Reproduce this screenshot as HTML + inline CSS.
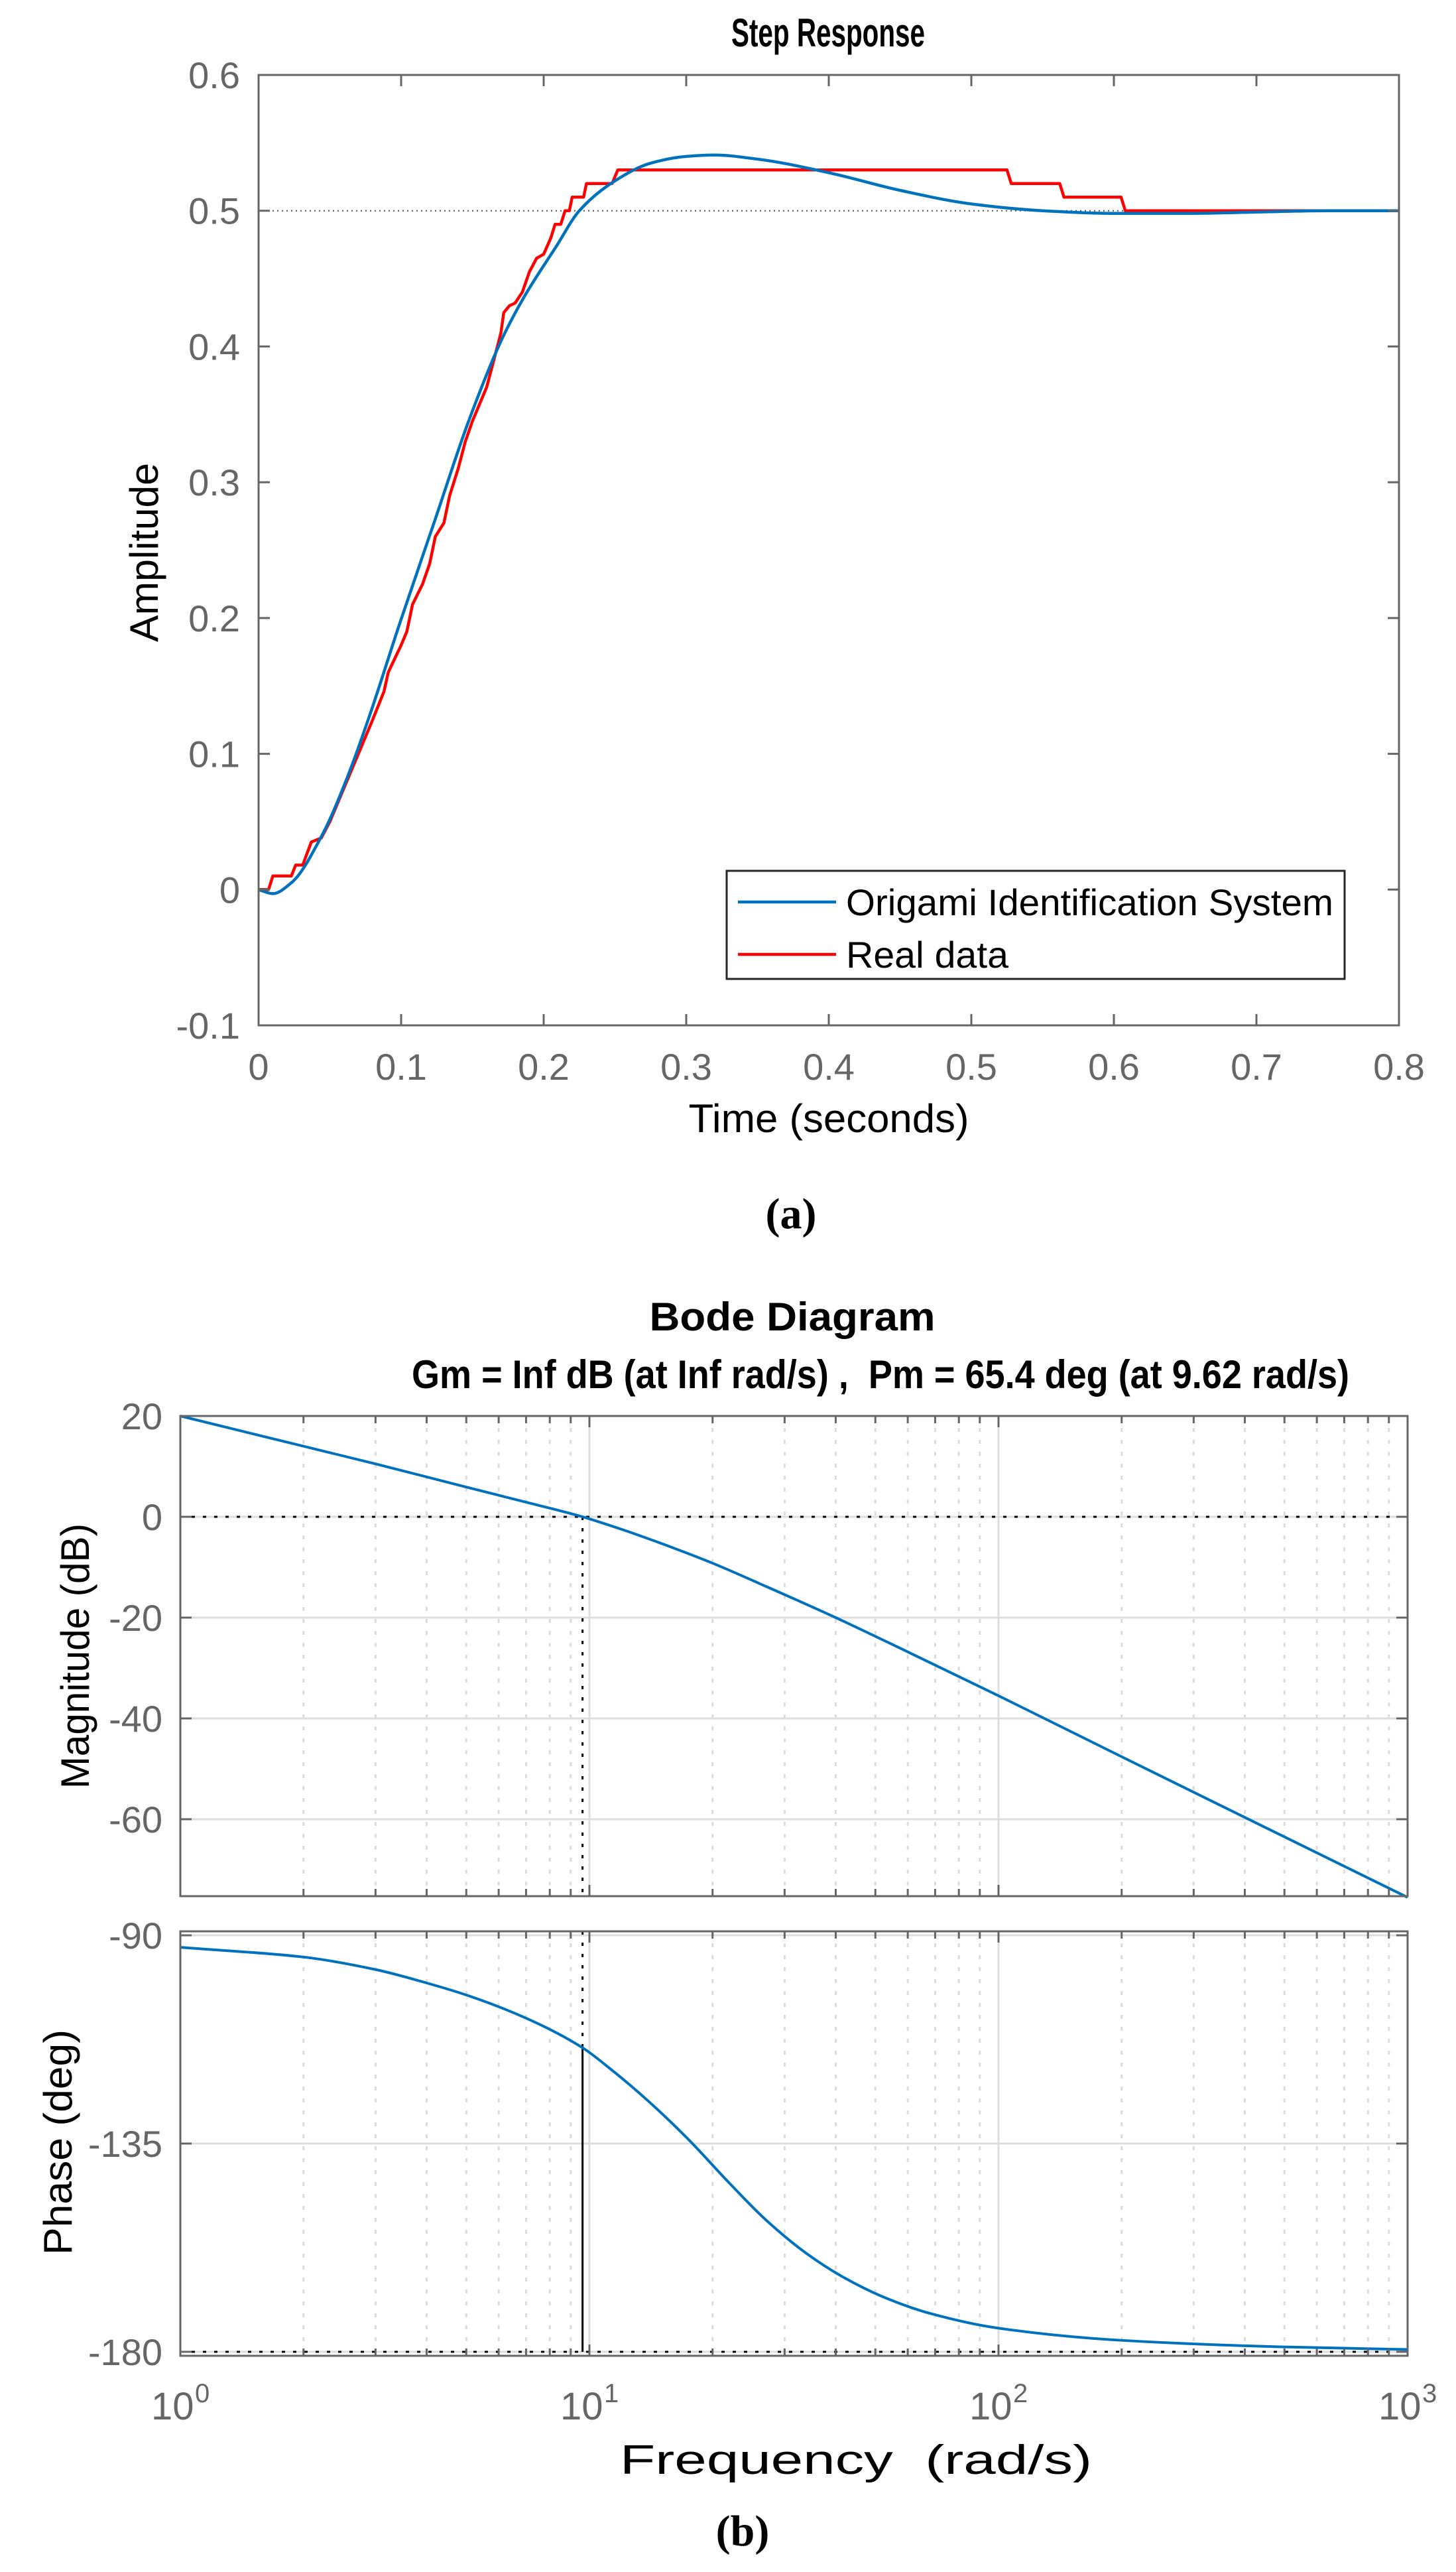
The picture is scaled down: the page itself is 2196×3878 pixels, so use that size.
<!DOCTYPE html>
<html><head><meta charset="utf-8"><style>
html,body{margin:0;padding:0;background:#fff;}
svg{display:block;}
text{font-family:"Liberation Sans",sans-serif;}
</style></head><body>
<svg id="fig" width="2196" height="3878" viewBox="0 0 2196 3878" xmlns="http://www.w3.org/2000/svg">
<rect x="0" y="0" width="2196" height="3878" fill="#fff"/>
<g id="step">
<text x="1249" y="70" font-size="60" font-weight="bold" text-anchor="middle" textLength="292" lengthAdjust="spacingAndGlyphs">Step Response</text>
<text transform="translate(238,833) rotate(-90)" font-size="60" text-anchor="middle" textLength="270" lengthAdjust="spacingAndGlyphs">Amplitude</text>
<text x="1250" y="1707" font-size="60" text-anchor="middle" textLength="423" lengthAdjust="spacingAndGlyphs">Time (seconds)</text>
<g id="stepGrid"></g>
<g id="stepMarks"></g>
<rect x="390" y="113" width="1720" height="1433" fill="none" stroke="#666" stroke-width="3"/>
<g id="stepTicks"></g>
<g>
<rect x="1096" y="1313" width="932" height="163" fill="#fff" stroke="#262626" stroke-width="3"/>
<line x1="1113" y1="1360" x2="1261" y2="1360" stroke="#0072BD" stroke-width="4.5"/>
<text x="1276" y="1380" font-size="56" textLength="735" lengthAdjust="spacingAndGlyphs">Origami Identification System</text>
<line x1="1113" y1="1439" x2="1261" y2="1439" stroke="#FF0000" stroke-width="4.5"/>
<text x="1276" y="1459" font-size="56" textLength="245" lengthAdjust="spacingAndGlyphs">Real data</text>
</g>
<text x="1193" y="1852" font-size="66" font-weight="bold" text-anchor="middle" style="font-family:'Liberation Serif',serif">(a)</text>
</g>
<g id="bode">
<text x="1195" y="2006" font-size="60" font-weight="bold" text-anchor="middle" textLength="431" lengthAdjust="spacingAndGlyphs">Bode Diagram</text>
<text x="1328" y="2093" font-size="60" font-weight="bold" text-anchor="middle" textLength="1414" lengthAdjust="spacingAndGlyphs" xml:space="preserve">Gm = Inf dB (at Inf rad/s) ,  Pm = 65.4 deg (at 9.62 rad/s)</text>
<text transform="translate(134,2497) rotate(-90)" font-size="60" text-anchor="middle" textLength="400" lengthAdjust="spacingAndGlyphs">Magnitude (dB)</text>
<text transform="translate(108,3230) rotate(-90)" font-size="60" text-anchor="middle" textLength="340" lengthAdjust="spacingAndGlyphs">Phase (deg)</text>
<text x="1291" y="3730" font-size="62" text-anchor="middle" textLength="712" lengthAdjust="spacingAndGlyphs" xml:space="preserve">Frequency  (rad/s)</text>
<g id="bodeGrid"></g>
<g id="bodeMarks"></g>
<rect x="272" y="2135" width="1851" height="724" fill="none" stroke="#666" stroke-width="3"/>
<rect x="272" y="2912" width="1851" height="640" fill="none" stroke="#666" stroke-width="3"/>
<g id="bodeTicks"></g>
<text x="1120" y="3838" font-size="66" font-weight="bold" text-anchor="middle" style="font-family:'Liberation Serif',serif">(b)</text>
</g>
</svg>
<script>
// ---- Step response data ----
const stepT = [0,0.01,0.023,0.045,0.062,0.0775,0.099,0.124,0.147,0.1705,0.186,0.209,0.225,0.25,0.275,0.3,0.32,0.35,0.4,0.45,0.5,0.55,0.6,0.65,0.7,0.75,0.8];
const stepModel = [0,-0.003,0.005,0.041,0.082,0.127,0.196,0.273,0.344,0.405,0.436,0.474,0.5,0.522,0.535,0.54,0.541,0.538,0.528,0.515,0.505,0.5,0.498,0.498,0.499,0.5,0.5];
const realT = [0,0.007,0.01,0.023,0.026,0.031,0.037,0.044,0.05,0.06,0.07,0.08,0.088,0.091,0.1,0.104,0.108,0.115,0.12,0.124,0.13,0.134,0.14,0.145,0.15,0.16,0.165,0.17,0.172,0.176,0.18,0.185,0.19,0.195,0.2,0.205,0.208,0.212,0.215,0.218,0.22,0.228,0.23,0.248,0.252,0.525,0.528,0.562,0.565,0.605,0.608,0.8];
const realY = [0,0,0.01,0.01,0.018,0.018,0.035,0.038,0.05,0.075,0.1,0.125,0.146,0.16,0.18,0.19,0.21,0.225,0.24,0.26,0.27,0.29,0.31,0.33,0.345,0.37,0.39,0.41,0.425,0.43,0.432,0.44,0.455,0.465,0.468,0.48,0.49,0.49,0.50,0.50,0.51,0.51,0.52,0.52,0.53,0.53,0.52,0.52,0.51,0.51,0.50,0.50];
const stepXTicks = [0,0.1,0.2,0.3,0.4,0.5,0.6,0.7,0.8];
const stepXLabels = ["0","0.1","0.2","0.3","0.4","0.5","0.6","0.7","0.8"];
const stepYTicks = [-0.1,0,0.1,0.2,0.3,0.4,0.5,0.6];
const stepYLabels = ["-0.1","0","0.1","0.2","0.3","0.4","0.5","0.6"];
const steadyState = [0.5];
// ---- Bode data ----
const magW = [1,2,3,5,7,9.62,12,15,20,27,40,60,100,200,500,1000];
const magDb = [20,14,10.5,5.9,2.9,0,-2.5,-5.3,-9.2,-13.8,-20,-26.8,-35.5,-47.6,-63.5,-75.5];
const phW = [1,2,3,4,5,7,9.62,11.3,14,17.5,21.8,27,34,42,52.8,68,100,198,478,1000];
const phDeg = [-92.6,-94.7,-97.4,-100.3,-102.9,-107.9,-114.3,-119,-126,-134.2,-143.2,-151.5,-158.8,-164,-168.3,-171.7,-174.9,-177.5,-178.9,-179.5];
const magYTicks = [20,0,-20,-40,-60];
const magYLabels = ["20","0","-20","-40","-60"];
const phYTicks = [-90,-135,-180];
const phYLabels = ["-90","-135","-180"];
const decadeExps = [0,1,2,3];
const crossoverW = [9.62];
const crossoverPhase = [-114.3];

const NS = "http://www.w3.org/2000/svg";
function mk(parent, tag, attrs){ const e=document.createElementNS(NS,tag); for(const k in attrs) e.setAttribute(k,attrs[k]); parent.appendChild(e); return e; }
// monotone cubic (Fritsch-Carlson) path through screen points with increasing x
function smooth(pts){
  const n=pts.length, dx=[], s=[], m=new Array(n);
  for(let i=0;i<n-1;i++){ dx[i]=pts[i+1][0]-pts[i][0]; s[i]=(pts[i+1][1]-pts[i][1])/dx[i]; }
  m[0]=s[0]; m[n-1]=s[n-2];
  for(let i=1;i<n-1;i++){ if(s[i-1]*s[i]<=0) m[i]=0; else { const w1=2*dx[i]+dx[i-1], w2=dx[i]+2*dx[i-1]; m[i]=(w1+w2)/(w1/s[i-1]+w2/s[i]); } }
  let d="M"+pts[0][0].toFixed(2)+","+pts[0][1].toFixed(2);
  for(let i=0;i<n-1;i++){ const h=dx[i]/3;
    d+="C"+(pts[i][0]+h).toFixed(2)+","+(pts[i][1]+m[i]*h).toFixed(2)+" "+(pts[i+1][0]-h).toFixed(2)+","+(pts[i+1][1]-m[i+1]*h).toFixed(2)+" "+pts[i+1][0].toFixed(2)+","+pts[i+1][1].toFixed(2); }
  return d; }

// Step axes
const sx = t => 390 + t/0.8*1720;
const sy = v => 113 + (0.6 - v)/0.7*1433;
const sGrid=document.getElementById('stepGrid'), sMarks=document.getElementById('stepMarks'), sTicks=document.getElementById('stepTicks');
let el = mk(sGrid,'line',{x1:sx(0),x2:sx(0.8),y1:sy(steadyState[0]),y2:sy(steadyState[0]),stroke:'#555','stroke-width':2,'stroke-dasharray':'2 5'});


el = mk(sMarks,'polyline',{points:realT.map((t,i)=>sx(t).toFixed(1)+","+sy(realY[i]).toFixed(1)).join(" "),fill:'none',stroke:'#FF0000','stroke-width':4.5,'stroke-linejoin':'round'});


el = mk(sMarks,'path',{d:smooth(stepT.map((t,i)=>[sx(t),sy(stepModel[i])])),fill:'none',stroke:'#0072BD','stroke-width':4.5});


stepXTicks.forEach((t,i)=>{
  mk(sTicks,'line',{x1:sx(t),x2:sx(t),y1:1546,y2:1529,stroke:'#666','stroke-width':3});
  mk(sTicks,'line',{x1:sx(t),x2:sx(t),y1:113,y2:130,stroke:'#666','stroke-width':3});
  const tx=mk(sTicks,'text',{x:sx(t),y:1628,'font-size':56,'text-anchor':'middle',fill:'#666'}); tx.textContent=stepXLabels[i];
  
  
});
stepYTicks.forEach((v,i)=>{
  mk(sTicks,'line',{x1:390,x2:407,y1:sy(v),y2:sy(v),stroke:'#666','stroke-width':3});
  mk(sTicks,'line',{x1:2110,x2:2093,y1:sy(v),y2:sy(v),stroke:'#666','stroke-width':3});
  const tx=mk(sTicks,'text',{x:362,y:sy(v)+20,'font-size':56,'text-anchor':'end',fill:'#666'}); tx.textContent=stepYLabels[i];
  
  
});

// Bode axes
const lx = w => 272 + Math.log10(w)*617;
const my = db => 2287 - db*7.6;
const py = d => 2918 + (-90 - d)*(628/90);
const bGrid=document.getElementById('bodeGrid'), bMarks=document.getElementById('bodeMarks'), bTicks=document.getElementById('bodeTicks');
const panels=[[2135,2859],[2912,3552]];
decadeExps.forEach(e=>{
  for(let m=1;m<=9;m++){
    if(e===3 && m>1) break;
    const x=lx(m*Math.pow(10,e));
    panels.forEach(([t,b])=>{
      if(m===1){ if(e>0&&e<3) mk(bGrid,'line',{x1:x,x2:x,y1:t,y2:b,stroke:'#dedede','stroke-width':3}); }
      else mk(bGrid,'line',{x1:x,x2:x,y1:t,y2:b,stroke:'#dcdcdc','stroke-width':3,'stroke-dasharray':'6 12'});
      const L = m===1?17:11;
      mk(bTicks,'line',{x1:x,x2:x,y1:b,y2:b-L,stroke:'#666','stroke-width':3});
      mk(bTicks,'line',{x1:x,x2:x,y1:t,y2:t+L,stroke:'#666','stroke-width':3});
    });
  }
});
magYTicks.forEach((v,i)=>{
  mk(bGrid,'line',{x1:272,x2:2123,y1:my(v),y2:my(v),stroke:'#dedede','stroke-width':3});
  mk(bTicks,'line',{x1:272,x2:289,y1:my(v),y2:my(v),stroke:'#666','stroke-width':3});
  mk(bTicks,'line',{x1:2123,x2:2106,y1:my(v),y2:my(v),stroke:'#666','stroke-width':3});
  const tx=mk(bTicks,'text',{x:245,y:my(v)+20,'font-size':56,'text-anchor':'end',fill:'#666'}); tx.textContent=magYLabels[i];
  
  
});
phYTicks.forEach((v,i)=>{
  mk(bGrid,'line',{x1:272,x2:2123,y1:py(v),y2:py(v),stroke:'#dedede','stroke-width':3});
  mk(bTicks,'line',{x1:272,x2:289,y1:py(v),y2:py(v),stroke:'#666','stroke-width':3});
  mk(bTicks,'line',{x1:2123,x2:2106,y1:py(v),y2:py(v),stroke:'#666','stroke-width':3});
  const tx=mk(bTicks,'text',{x:245,y:py(v)+20,'font-size':56,'text-anchor':'end',fill:'#666'}); tx.textContent=phYLabels[i];
  
  
});
decadeExps.forEach(e=>{
  const x=lx(Math.pow(10,e));
  const tx=mk(bTicks,'text',{x:x-44,y:3648,'font-size':58,fill:'#666'}); tx.textContent="10";
  
  
  const sp=mk(bTicks,'text',{x:x+22,y:3622,'font-size':40,fill:'#666'}); sp.textContent=String(e);
  
  
});
// reference lines
const cx = lx(crossoverW[0]);
el = mk(bMarks,'line',{x1:272,x2:2123,y1:my(0),y2:my(0),stroke:'#000','stroke-width':3,'stroke-dasharray':'5 12'});


el = mk(bMarks,'line',{x1:cx,x2:cx,y1:my(0),y2:2859,stroke:'#000','stroke-width':3,'stroke-dasharray':'5 12'});


el = mk(bMarks,'line',{x1:272,x2:2123,y1:py(-180),y2:py(-180),stroke:'#000','stroke-width':3,'stroke-dasharray':'5 12'});


el = mk(bMarks,'line',{x1:cx,x2:cx,y1:2912,y2:py(crossoverPhase[0]),stroke:'#000','stroke-width':3,'stroke-dasharray':'5 12'});


el = mk(bMarks,'line',{x1:cx,x2:cx,y1:py(crossoverPhase[0]),y2:py(-180),stroke:'#000','stroke-width':3});


el = mk(bMarks,'path',{d:smooth(magW.map((w,i)=>[lx(w),my(magDb[i])])),fill:'none',stroke:'#0072BD','stroke-width':4});


el = mk(bMarks,'path',{d:smooth(phW.map((w,i)=>[lx(w),py(phDeg[i])])),fill:'none',stroke:'#0072BD','stroke-width':4});


</script>
</body></html>
